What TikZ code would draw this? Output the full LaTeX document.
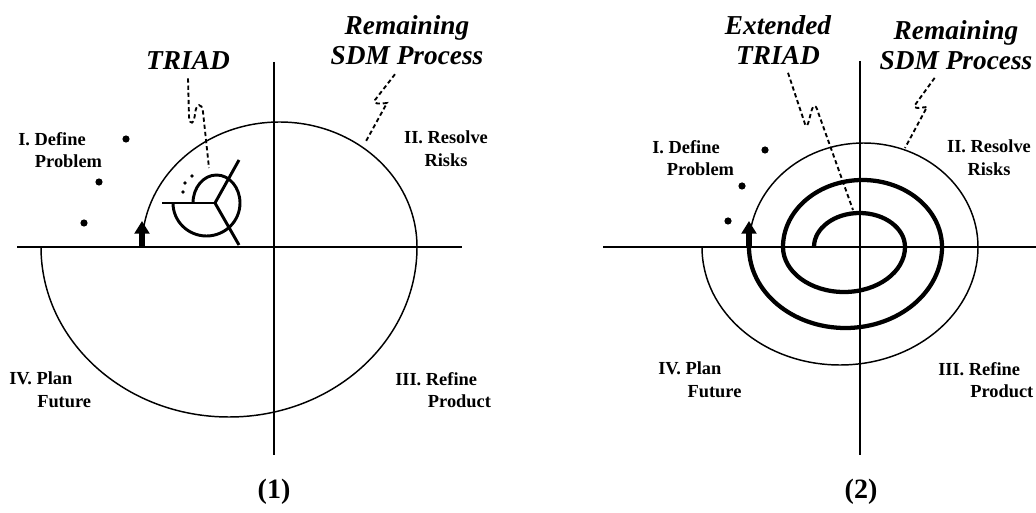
\documentclass[tikz,border=0pt]{standalone}
\usepackage{fontspec}
\setmainfont{Liberation Serif}
\usetikzlibrary{arrows.meta}

\begin{document}
\begin{tikzpicture}[
    x=0.75pt, y=-0.75pt,
    axisline/.style={line width=2.2pt},
    outerpath/.style={line width=1.1pt},
    triadpath/.style={line width=3.2pt},
    glyph/.style={line width=2.2pt},
    leader/.style={
        dashed,
        dash pattern=on 3.2pt off 2.2pt,
        line width=1.4pt
    },
    startarrow/.style={
        -{Triangle[width=11pt,length=9.5pt]},
        line width=5pt
    },
    phase/.style={
        font=\bfseries\fontsize{13.8}{17}\selectfont,
        align=left,
        inner sep=0pt,
        anchor=west
    },
    tag/.style={
        font=\bfseries\itshape\fontsize{20.5}{22.5}\selectfont,
        align=center,
        inner sep=0pt
    },
    caption/.style={
        font=\bfseries\fontsize{21}{24}\selectfont,
        inner sep=0pt
    }
]

    \useasboundingbox (0,0) rectangle (1036,513);

    % --- Panel (1) ---

    % Axes
    \coordinate (w1) at (17,247);
    \coordinate (e1) at (462,247);
    \coordinate (n1) at (274,62);
    \coordinate (s1) at (274,455);
    \draw[axisline] (w1) -- (e1);
    \draw[axisline] (n1) -- (s1);

    % Remaining SDM spiral
    \coordinate (start1) at (142,247);
    \coordinate (tip1) at (142,221);
    \draw[outerpath] (start1)
        arc[start angle=180, end angle=360, x radius=137.5, y radius=125]
        arc[start angle=0, end angle=180, x radius=188, y radius=170];
    \draw[startarrow] (start1) -- (tip1);

    % TRIAD glyph
    \coordinate (hub1) at (215,203);
    \draw[glyph] (hub1) -- (162,203);
    \draw[glyph] (hub1) -- (239,160);
    \draw[glyph] (hub1) -- (239,245);
    \draw[glyph] (173,203)
        arc[start angle=180, end angle=0, x radius=33.5, y radius=33]
        arc[start angle=0, end angle=-180, x radius=23.5, y radius=28];
    \foreach \p in {(192,176), (185,183), (183,192)}
        \fill \p circle[radius=1.8];

    % Dots
    \foreach \p in {(126,139), (99,182), (84,223)}
        \fill \p circle[radius=3.6];

    % Labels
    \node[phase] (def1) at (18,150) {I. Define\\\hspace*{12.5pt}Problem};
    \node[phase, align=center, anchor=center] (res1) at (446,149) {II. Resolve\\Risks};
    \node[phase] (plan1) at (9,390) {IV. Plan\\\hspace*{21pt}Future};
    \node[phase] (ref1) at (395,390) {III. Refine\\\hspace*{24.5pt}Product};
    \node[tag] (triad1) at (188,61) {TRIAD};
    \node[tag] (rem1) at (407,40) {Remaining\\SDM Process};
    \node[caption] (cap1) at (274,492) {(1)};

    % Leaders
    \coordinate (t1) at (209,168);
    \coordinate (r1) at (365,143);
    \draw[leader] ([yshift=-6pt]triad1.south) -- (189,117)
        .. controls (190,126) and (194,124) .. (195,114)
        .. controls (196,103) and (202,102) .. (203,112) -- (t1);
    \draw[leader] ([xshift=-9pt, yshift=-7pt]rem1.south) -- (375,100)
        .. controls (373,104) and (378,104) .. (387,103) -- (r1);

    % --- Panel (2) ---

    % Axes
    \coordinate (w2) at (603,247);
    \coordinate (e2) at (1036,247);
    \coordinate (n2) at (860,61);
    \coordinate (s2) at (860,455);
    \draw[axisline] (w2) -- (e2);
    \draw[axisline] (n2) -- (s2);

    % Remaining SDM spiral
    \coordinate (start2) at (749,247);
    \coordinate (tip2) at (749,221);
    \draw[outerpath] (start2)
        arc[start angle=180, end angle=360, x radius=114.5, y radius=104]
        arc[start angle=0, end angle=180, x radius=138, y radius=118];

    % Extended TRIAD spiral
    \draw[triadpath] (start2)
        arc[start angle=180, end angle=0, x radius=96.5, y radius=81]
        arc[start angle=0, end angle=-180, x radius=79.5, y radius=67]
        arc[start angle=180, end angle=0, x radius=61, y radius=45]
        arc[start angle=0, end angle=-180, x radius=45.5, y radius=34];
    \draw[startarrow] (start2) -- (tip2);

    % Dots
    \foreach \p in {(765,150), (742,186), (728,221)}
        \fill \p circle[radius=3.6];

    % Labels
    \node[phase] (def2) at (652,158) {I. Define\\\hspace*{11pt}Problem};
    \node[phase, align=center, anchor=center] (res2) at (989,158) {II. Resolve\\Risks};
    \node[phase] (plan2) at (658,380) {IV. Plan\\\hspace*{22pt}Future};
    \node[phase] (ref2) at (938,380) {III. Refine\\\hspace*{24pt}Product};
    \node[tag] (ext2) at (778,40) {Extended\\TRIAD};
    \node[tag] (rem2) at (956,45) {Remaining\\SDM Process};
    \node[caption] (cap2) at (861,492) {(2)};

    % Leaders
    \coordinate (t2) at (853,210);
    \coordinate (r2) at (905,148);
    \draw[leader] ([xshift=7.5pt, yshift=-6pt]ext2.south) -- (805,124)
        .. controls (808,132) and (810,112) .. (813,107)
        .. controls (815,104) and (817,108) .. (818,112) -- (t2);
    \draw[leader] ([xshift=-16pt, yshift=-6pt]rem2.south) -- (915,105)
        .. controls (913,109) and (918,108) .. (927,107) -- (r2);

\end{tikzpicture}
\end{document}
